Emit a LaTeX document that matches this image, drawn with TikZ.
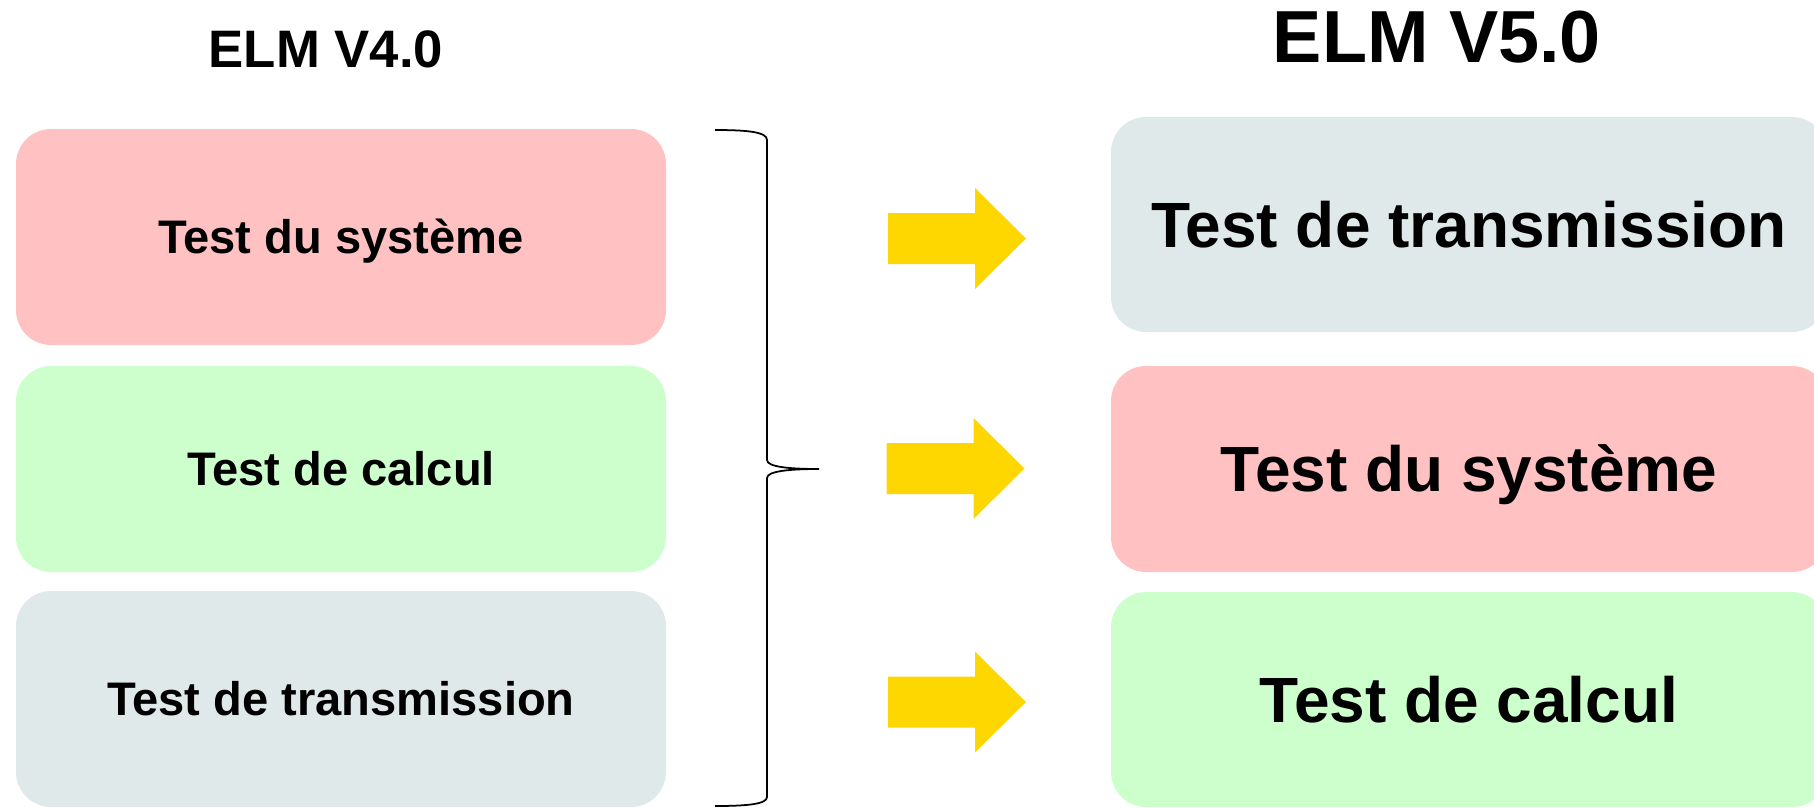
\documentclass[tikz,border=0pt]{standalone}
\usepackage{fontspec}
\setmainfont{Liberation Sans}
\usepackage{tikz}

\definecolor{sysred}{HTML}{FFC1C1}
\definecolor{calcgreen}{HTML}{CCFFCC}
\definecolor{transgray}{HTML}{E0E9E9}
\definecolor{arrowgold}{HTML}{FFD700}

\tikzset{
	oldbox/.style={rectangle, rounded corners=3.5mm, inner sep=0pt, minimum width=65mm,
		font=\fontsize{13.4pt}{16pt}\selectfont\bfseries, text height=9.6pt, text depth=0pt},
	newbox/.style={rectangle, rounded corners=3.5mm, inner sep=0pt, minimum width=71.6mm,
		font=\fontsize{18.2pt}{22pt}\selectfont\bfseries, text height=13pt, text depth=0pt},
	yarrow/.pic={
		\fill[arrowgold] (-69,-25.5) -- (18,-25.5) -- (18,-50.5) -- (69,0) -- (18,50.5) -- (18,25.5) -- (-69,25.5) -- cycle;
	}
}

\begin{document}
\begin{tikzpicture}[x=0.1mm, y=-0.1mm]
				\useasboundingbox (0,0) rectangle (1814,807);
				\clip (0,0) rectangle (1814,807);
				\begin{scope}
					\node[font=\fontsize{15pt}{18pt}\selectfont\bfseries, text height=10.7pt, text depth=0pt, inner sep=0pt] (v4title) at (326,49) {ELM V4.0};
					\node[font=\fontsize{21pt}{25pt}\selectfont\bfseries, text height=15pt, text depth=0pt, inner sep=0pt] (v5title) at (1437,36) {ELM V5.0};

					% ancienne version
					\node[oldbox, fill=sysred, minimum height=21.6mm] (oldsys) at (341,237) {Test du système};
					\node[oldbox, fill=calcgreen, minimum height=20.6mm] (oldcalc) at (341,469) {Test de calcul};
					\node[oldbox, fill=transgray, minimum height=21.6mm] (oldtrans) at (341,699) {Test de transmission};

					% nouvelle version
					\node[newbox, fill=transgray, minimum height=21.5mm] (newtrans) at (1469,224.5) {Test de transmission};
					\node[newbox, fill=sysred, minimum height=20.6mm] (newsys) at (1469,469) {Test du système};
					\node[newbox, fill=calcgreen, minimum height=21.5mm] (newcalc) at (1469,699.5) {Test de calcul};

					% accolade
					\draw[line width=0.5pt] (715,130) .. controls (748,130) and (767,132) .. (767,140) -- (767,460) .. controls (767,467) and (790,469) .. (819,469) .. controls (790,469) and (767,471) .. (767,478) -- (767,797) .. controls (767,804) and (748,806) .. (715,806);

					% fleches
					\pic at (957,238.5) {yarrow};
					\pic at (955.5,468.5) {yarrow};
					\pic at (957,702) {yarrow};
				\end{scope}
			\end{tikzpicture}
\end{document}
